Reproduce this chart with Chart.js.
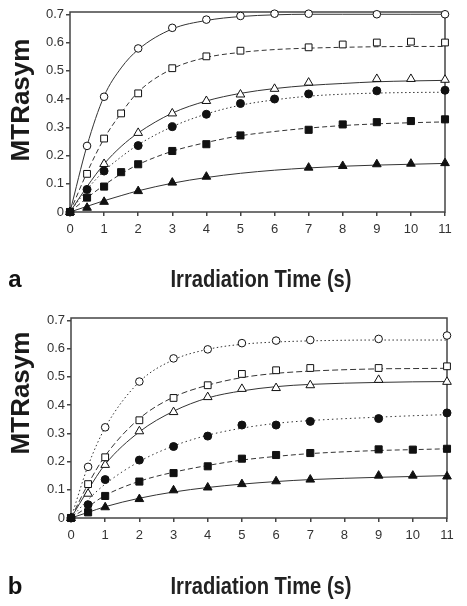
<!DOCTYPE html>
<html>
<head>
<meta charset="utf-8">
<script src="https://cdn.jsdelivr.net/npm/chart.js@4.4.0/dist/chart.umd.min.js"></script>
<style>
  body { margin: 0; width: 467px; height: 606px; background: #fff; position: relative; overflow: hidden; font-family: "Liberation Sans", Arial, sans-serif; }
  .panel { position: absolute; left: 0; width: 467px; }
  .ytitle { position: absolute; font-weight: bold; font-size: 26px; line-height: 1; color: #1a1a1a; white-space: nowrap; transform: translate(-50%, -50%) rotate(-90deg); }
  .xtitle { position: absolute; font-weight: bold; font-size: 24px; line-height: 1; color: #222; white-space: nowrap; transform: translate(-50%, -50%) scaleX(0.84); }
  .letter { position: absolute; font-weight: bold; font-size: 24px; line-height: 1; color: #111; transform: translate(-50%, -50%); }
</style>
</head>
<body>
<div class="panel" style="top:0;height:300px"><canvas id="chartA" width="467" height="300"></canvas></div>
<div class="panel" style="top:300px;height:306px"><canvas id="chartB" width="467" height="306"></canvas></div>
<div class="ytitle" style="left:20px;top:100px">MTRasym</div>
<div class="ytitle" style="left:20px;top:393px">MTRasym</div>
<div class="xtitle" style="left:261px;top:279px">Irradiation Time (s)</div>
<div class="xtitle" style="left:261px;top:586px">Irradiation Time (s)</div>
<div class="letter" style="left:15px;top:279px">a</div>
<div class="letter" style="left:15px;top:586px">b</div>
<script>
// panel a - measured points
const timeA = [0, 0.5, 1, 1.5, 2, 3, 4, 5, 6, 7, 8, 9, 10, 11];
const openCircleA = [0, 0.234, 0.408, null, 0.579, 0.652, 0.681, 0.694, 0.702, 0.702, null, 0.70, null, 0.70];
const openSquareA = [0, 0.135, 0.26, 0.349, 0.42, 0.509, 0.551, 0.571, null, 0.583, 0.593, 0.60, 0.603, 0.60];
const openTriangleA = [0, null, 0.17, null, 0.28, 0.349, 0.393, 0.416, 0.436, 0.458, null, 0.471, 0.471, 0.468];
const filledCircleA = [0, 0.08, 0.145, null, 0.235, 0.302, 0.346, 0.384, 0.40, 0.418, null, 0.429, null, 0.431];
const filledSquareA = [0, 0.051, 0.09, 0.141, 0.169, 0.216, 0.24, 0.271, null, 0.291, 0.31, 0.318, 0.322, 0.328];
const filledTriangleA = [0, 0.015, 0.036, null, 0.074, 0.104, 0.125, null, null, 0.157, 0.163, 0.169, 0.171, 0.173];

// panel a - fitted curves (at the same times)
const fitOpenCircleA = [0, 0.235, 0.41, 0.51, 0.575, 0.648, 0.678, 0.692, 0.698, 0.70, 0.70, 0.70, 0.70, 0.70];
const fitOpenSquareA = [0, 0.14, 0.26, 0.35, 0.425, 0.507, 0.547, 0.565, 0.575, 0.58, 0.583, 0.585, 0.586, 0.586];
const fitOpenTriangleA = [0, 0.09, 0.17, 0.232, 0.28, 0.35, 0.393, 0.42, 0.437, 0.448, 0.455, 0.461, 0.464, 0.466];
const fitFilledCircleA = [0, 0.08, 0.145, 0.195, 0.238, 0.302, 0.347, 0.378, 0.397, 0.41, 0.417, 0.421, 0.423, 0.424];
const fitFilledSquareA = [0, 0.05, 0.095, 0.135, 0.168, 0.215, 0.246, 0.27, 0.285, 0.297, 0.306, 0.312, 0.316, 0.319];
const fitFilledTriangleA = [0, 0.02, 0.04, 0.058, 0.075, 0.102, 0.122, 0.137, 0.148, 0.156, 0.162, 0.166, 0.169, 0.172];

// panel b - measured points
const timeB = [0, 0.5, 1, 2, 3, 4, 5, 6, 7, 9, 10, 11];
const openCircleB = [0, 0.181, 0.321, 0.483, 0.565, 0.597, 0.619, 0.628, 0.630, 0.634, null, 0.646];
const openSquareB = [0, 0.12, 0.215, 0.346, 0.425, 0.47, 0.51, 0.523, 0.531, 0.531, null, 0.537];
const openTriangleB = [0, 0.086, 0.188, 0.307, 0.375, 0.428, 0.457, 0.46, 0.47, 0.489, null, 0.482];
const filledCircleB = [0, 0.047, 0.136, 0.205, 0.253, 0.29, 0.329, 0.329, 0.342, 0.352, null, 0.372];
const filledSquareB = [0, 0.02, 0.078, 0.129, 0.159, 0.183, 0.21, 0.223, 0.23, 0.243, 0.242, 0.245];
const filledTriangleB = [0, null, 0.038, 0.067, 0.098, 0.108, 0.12, 0.13, 0.136, 0.15, 0.15, 0.147];

// panel b - fitted curves
const fitOpenCircleB = [0, 0.185, 0.32, 0.482, 0.56, 0.597, 0.615, 0.623, 0.627, 0.63, 0.63, 0.63];
const fitOpenSquareB = [0, 0.12, 0.22, 0.352, 0.428, 0.47, 0.497, 0.512, 0.52, 0.528, 0.529, 0.53];
const fitOpenTriangleB = [0, 0.1, 0.19, 0.305, 0.378, 0.425, 0.45, 0.465, 0.473, 0.48, 0.482, 0.483];
const fitFilledCircleB = [0, 0.065, 0.12, 0.2, 0.255, 0.293, 0.318, 0.335, 0.345, 0.357, 0.362, 0.366];
const fitFilledSquareB = [0, 0.04, 0.08, 0.13, 0.162, 0.186, 0.205, 0.218, 0.228, 0.239, 0.242, 0.245];
const fitFilledTriangleB = [0, 0.02, 0.04, 0.07, 0.092, 0.108, 0.12, 0.129, 0.136, 0.144, 0.147, 0.15];

const yTickValues = [0, 0.1, 0.2, 0.3, 0.4, 0.5, 0.6, 0.7];
const xTickValues = [0, 1, 2, 3, 4, 5, 6, 7, 8, 9, 10, 11];

// marker looks
const markerLook = {
  filledSquare: { style: "rect", r: 5, bg: "#111" },
  filledTriangle: { style: "triangle", r: 5, bg: "#111" },
  filledCircle: { style: "circle", r: 4, bg: "#111" },
  openSquare: { style: "rect", r: 4.8, bg: "#fff" },
  openTriangle: { style: "triangle", r: 5, bg: "#fff" },
  openCircle: { style: "circle", r: 3.8, bg: "#fff" },
};

function toXY(times, vals) {
  return times.map((t, i) => ({ x: t, y: vals[i] })).filter(p => p.y !== null);
}

const boxPlugin = {
  id: "box",
  beforeDatasetsDraw(chart) {
    const { ctx, chartArea: a } = chart;
    ctx.save();
    ctx.strokeStyle = "#444";
    ctx.lineWidth = 1.5;
    ctx.strokeRect(a.left, a.top, a.right - a.left, a.bottom - a.top);
    ctx.restore();
  }
};

function makePanel(id, times, series, dashes, cfg) {
  const datasets = [];
  series.forEach(s => {
    const look = markerLook[s.key];
    datasets.push({
      data: toXY(times, s.points),
      showLine: false,
      pointStyle: look.style,
      pointRadius: look.r,
      pointBackgroundColor: look.bg,
      pointBorderColor: "#111",
      pointBorderWidth: 1,
      clip: false
    });
  });
  series.forEach(s => {
    datasets.push({
      data: toXY(times, s.fit),
      showLine: true,
      pointRadius: 0,
      borderColor: "#333",
      borderWidth: 1,
      borderDash: dashes[s.key],
      cubicInterpolationMode: "monotone",
      clip: false
    });
  });

  return new Chart(document.getElementById(id), {
    type: "scatter",
    data: { datasets: datasets },
    options: {
      responsive: false,
      animation: false,
      layout: { padding: { top: cfg.top, right: cfg.right, left: 0, bottom: 0 } },
      plugins: { legend: { display: false }, tooltip: { enabled: false } },
      scales: {
        x: {
          min: 0, max: 11,
          afterBuildTicks: sc => { sc.ticks = xTickValues.map(v => ({ value: v })); },
          afterFit: sc => { sc.height = cfg.xHeight; },
          grid: { drawOnChartArea: false, drawTicks: true, tickLength: 4, color: "#444", lineWidth: 1.5 },
          border: { display: false },
          ticks: { color: "#333", padding: 6, maxRotation: 0, font: { family: "'Liberation Sans', Arial, sans-serif", size: 13 } }
        },
        y: {
          min: 0, max: 0.708,
          afterBuildTicks: sc => { sc.ticks = yTickValues.map(v => ({ value: v })); },
          afterFit: sc => { sc.width = cfg.yWidth; },
          grid: { drawOnChartArea: false, drawTicks: true, tickLength: 4, color: "#444", lineWidth: 1.5 },
          border: { display: false },
          ticks: { color: "#333", padding: 2, font: { family: "'Liberation Sans', Arial, sans-serif", size: 13 } }
        }
      }
    },
    plugins: [boxPlugin]
  });
}

makePanel("chartA", timeA, [
  { key: "filledSquare", points: filledSquareA, fit: fitFilledSquareA },
  { key: "filledTriangle", points: filledTriangleA, fit: fitFilledTriangleA },
  { key: "filledCircle", points: filledCircleA, fit: fitFilledCircleA },
  { key: "openSquare", points: openSquareA, fit: fitOpenSquareA },
  { key: "openTriangle", points: openTriangleA, fit: fitOpenTriangleA },
  { key: "openCircle", points: openCircleA, fit: fitOpenCircleA }
], {
  openCircle: [], openSquare: [5, 3], openTriangle: [],
  filledCircle: [1.5, 2.5], filledSquare: [5, 3], filledTriangle: []
}, { top: 12, right: 22, xHeight: 88, yWidth: 70 });

makePanel("chartB", timeB, [
  { key: "filledSquare", points: filledSquareB, fit: fitFilledSquareB },
  { key: "filledTriangle", points: filledTriangleB, fit: fitFilledTriangleB },
  { key: "filledCircle", points: filledCircleB, fit: fitFilledCircleB },
  { key: "openSquare", points: openSquareB, fit: fitOpenSquareB },
  { key: "openTriangle", points: openTriangleB, fit: fitOpenTriangleB },
  { key: "openCircle", points: openCircleB, fit: fitOpenCircleB }
], {
  openCircle: [1.5, 2.5], openSquare: [6, 3], openTriangle: [],
  filledCircle: [1.5, 3], filledSquare: [5, 3], filledTriangle: []
}, { top: 18, right: 20, xHeight: 88, yWidth: 71 });
</script>
</body>
</html>
